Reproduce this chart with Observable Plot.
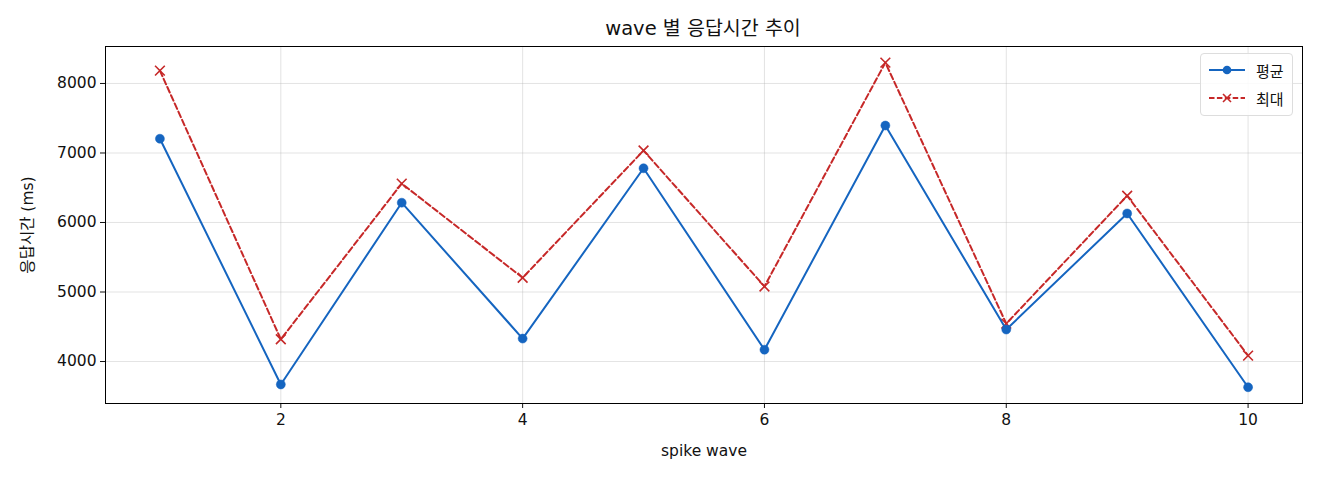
<!DOCTYPE html>
<html><head><meta charset="utf-8">
<script src="https://cdn.jsdelivr.net/npm/d3@7"></script>
<script src="https://cdn.jsdelivr.net/npm/@observablehq/plot@0.6"></script>
<style>
body{margin:0;background:#fff;font-family:"DejaVu Sans","Noto Sans CJK KR",sans-serif;}
#wrap{position:relative;width:1320px;height:480px;}
#title{height:40px;line-height:58px;text-align:center;font-size:19.5px;color:#111;padding-left:86px;box-sizing:border-box;}
#legend{position:absolute;left:1200px;top:53px;width:93px;height:63px;border:1px solid #ddd;border-radius:4px;background:rgba(255,255,255,0.85);font-size:15px;box-sizing:border-box;}
#legend .row{position:absolute;left:6px;height:20px;display:flex;align-items:center;}
#legend .row span{margin-left:9px;color:#111;}
</style></head>
<body>
<div id="wrap">
<div id="title"></div>
<div id="chart"></div>
<div id="legend">
 <div class="row" style="top:6px"><svg width="40" height="20"><line x1="2" x2="38" y1="10" y2="10" stroke="#1565c0" stroke-width="2"/><circle cx="20" cy="10" r="4.3" fill="#1565c0"/></svg><span>평균</span></div>
 <div class="row" style="top:34px"><svg width="40" height="20"><line x1="2" x2="38" y1="10" y2="10" stroke="#c62828" stroke-width="2" stroke-dasharray="5.5,2.4"/><path d="M16,6L24,14M24,6L16,14" stroke="#c62828" stroke-width="1.6"/></svg><span>최대</span></div>
</div>
</div>
<script>
const waves = [1,2,3,4,5,6,7,8,9,10];
const avgMs = [7205, 3670, 6285, 4330, 6780, 4170, 7395, 4460, 6130, 3630];
const maxMs = [8185, 4320, 6560, 5205, 7035, 5080, 8300, 4545, 6385, 4085];
const xTicks = [2,4,6,8,10];
const yTicks = [4000,5000,6000,7000,8000];
const titleText = "wave 별 응답시간 추이";
const xLabel = "spike wave";
const yLabel = "응답시간 (ms)";

const avgData = waves.map((w,i)=>({wave:w, ms:avgMs[i]}));
const maxData = waves.map((w,i)=>({wave:w, ms:maxMs[i]}));
const blue = "#1565c0", red = "#c62828";

const chart = Plot.plot({
  width: 1320,
  height: 440,
  marginLeft: 105,
  marginRight: 18,
  marginTop: 6,
  marginBottom: 77,
  style: {fontFamily: '"DejaVu Sans","Noto Sans CJK KR",sans-serif', fontSize: "15px", color: "#111", background: "#fff"},
  x: {domain: [0.55, 10.45]},
  y: {domain: [3396, 8532]},
  marks: [
    Plot.gridX(xTicks, {stroke: "#b0b0b0", strokeOpacity: 0.35, strokeWidth: 1}),
    Plot.gridY(yTicks, {stroke: "#b0b0b0", strokeOpacity: 0.35, strokeWidth: 1}),
    Plot.axisX({ticks: xTicks, tickSize: 5, tickPadding: 5, fontSize: 15.5, label: xLabel, labelAnchor: "center", labelOffset: 52, labelArrow: "none", tickFormat: d3.format("d")}),
    Plot.axisY({ticks: yTicks, tickSize: 5, tickPadding: 4, fontSize: 15.5, label: yLabel, labelAnchor: "center", labelOffset: 84, labelArrow: "none", tickFormat: d3.format("d")}),
    Plot.line(maxData, {x: "wave", y: "ms", stroke: red, strokeWidth: 2, strokeDasharray: "6,3"}),
    Plot.dot(maxData, {x: "wave", y: "ms", symbol: "times", r: 4.5, stroke: red, strokeWidth: 1.6}),
    Plot.line(avgData, {x: "wave", y: "ms", stroke: blue, strokeWidth: 2}),
    Plot.dot(avgData, {x: "wave", y: "ms", r: 4.5, fill: blue, stroke: blue, strokeWidth: 0.5}),
    Plot.frame({stroke: "#000", strokeWidth: 1})
  ]
});
document.getElementById("chart").appendChild(chart);
document.getElementById("title").textContent = titleText;
</script>
</body></html>
